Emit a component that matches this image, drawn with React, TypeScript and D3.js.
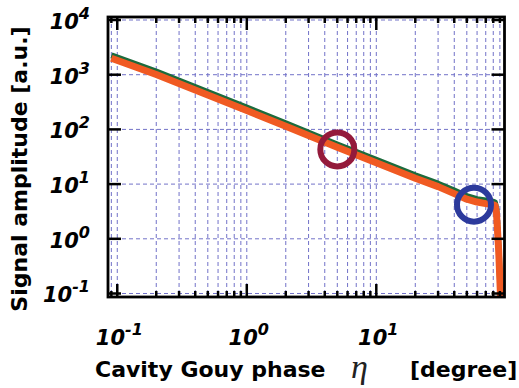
import React from "react";
import * as d3 from "d3";

// ---- data ----
const phaseDeg = [0.09, 0.2, 0.5, 1, 2, 5, 10, 20, 30, 40, 50, 60, 70, 80, 82.5, 84.7, 88.1, 90.7, 92];
const measuredAmp = [2000, 1010, 425, 221, 114, 47, 24.5, 12.8, 9.0, 6.7, 5.3, 4.7, 4.4, 4.2, 4.1, 3.0, 0.61, 0.11, 0.05];
const theoryAmp = [2260, 1140, 480, 250, 129, 53, 27.7, 14.5, 10.2, 7.6, 6.0, 5.3, 5.0, 4.75, 4.6, 3.4, 0.69, 0.125, 0.056];
const xMajorExp = [-1, 0, 1];
const yMajorExp = [-1, 0, 1, 2, 3, 4];
const markers = [
  { x: 5.0, y: 43, color: "#941a3b" },
  { x: 56.8, y: 4.21, color: "#2c3a9c" },
];

const W = 519;
const H = 388;
const L = 108, R = 504.5, T = 17, B = 297;

export default function App() {
  const x = d3.scaleLog().domain([0.0848, 97.7]).range([L, R]);
  const y = d3.scaleLog().domain([0.0863, 11350]).range([B, T]);

  const xGrid: number[] = [0.09];
  for (const e of xMajorExp) for (let m = 1; m <= 9; m++) xGrid.push(m * Math.pow(10, e));
  const xGridIn = xGrid.filter((v) => v >= 0.0848 && v <= 97.7);

  const line = d3
    .line<number>()
    .x((_, i) => x(phaseDeg[i]))
    .y((d) => y(d));

  const gridColor = "#7272c8";
  const tickFont = "'DejaVu Sans', Verdana, sans-serif";

  return (
    <svg width={W} height={H} style={{ position: "absolute", left: 0, top: 0, background: "#fff" }}>
      <defs>
        <clipPath id="plot">
          <rect x={L} y={T} width={R - L} height={B - T} />
        </clipPath>
      </defs>
      <rect x={0} y={0} width={W} height={H} fill="#fff" />
      {/* grid */}
      <g stroke={gridColor} strokeWidth={1} strokeDasharray="4,3" fill="none">
        {xGridIn.map((v, i) => (
          <line key={"gx" + i} x1={x(v)} x2={x(v)} y1={T} y2={B} />
        ))}
        {yMajorExp.map((e) => (
          <line key={"gy" + e} x1={L} x2={R} y1={y(Math.pow(10, e))} y2={y(Math.pow(10, e))} />
        ))}
      </g>
      {/* curves */}
      <g clipPath="url(#plot)" fill="none">
        <path d={line(theoryAmp) || ""} stroke="#1c6b3c" strokeWidth={6} strokeLinejoin="round" />
        <path d={line(measuredAmp) || ""} stroke="#f05a22" strokeWidth={7} strokeLinejoin="round" />
      </g>
      {/* markers */}
      {markers.map((m, i) => (
        <circle key={"m" + i} cx={x(m.x)} cy={y(m.y)} r={17} fill="none" stroke={m.color} strokeWidth={6} />
      ))}
      {/* ticks */}
      <g stroke="#000" strokeWidth={2.5}>
        {xGridIn.map((v, i) => {
          const major = Math.abs(Math.log10(v) - Math.round(Math.log10(v))) < 1e-9;
          const len = major ? 13 : 6;
          return (
            <g key={"tx" + i}>
              <line x1={x(v)} x2={x(v)} y1={B} y2={B - len} />
              <line x1={x(v)} x2={x(v)} y1={T} y2={T + len} />
            </g>
          );
        })}
        {yMajorExp.map((e) => (
          <g key={"ty" + e}>
            <line x1={L} x2={L + 13} y1={y(Math.pow(10, e))} y2={y(Math.pow(10, e))} />
            <line x1={R} x2={R - 13} y1={y(Math.pow(10, e))} y2={y(Math.pow(10, e))} />
          </g>
        ))}
      </g>
      {/* frame */}
      <rect x={L} y={T} width={R - L} height={B - T} fill="none" stroke="#000" strokeWidth={2.8} />
      {/* y tick labels */}
      <g fontFamily={tickFont} fontWeight="bold" fontStyle="italic" fill="#000" textAnchor="end">
        {yMajorExp.map((e) => (
          <text key={"ly" + e} x={90} y={y(Math.pow(10, e)) + 9} fontSize={21}>
            10
            <tspan dy={-10} fontSize={16}>{String(e)}</tspan>
          </text>
        ))}
      </g>
      {/* x tick labels */}
      <g fontFamily={tickFont} fontWeight="bold" fontStyle="italic" fill="#000" textAnchor="middle">
        {xMajorExp.map((e) => (
          <text key={"lx" + e} x={x(Math.pow(10, e)) + 2} y={345} fontSize={21}>
            10
            <tspan dy={-10} fontSize={16}>{String(e)}</tspan>
          </text>
        ))}
      </g>
      {/* axis titles */}
      <text x={95} y={377} fontFamily={tickFont} fontWeight="bold" fontSize={22} fill="#000">
        Cavity Gouy phase
      </text>
      <text x={351} y={378} fontFamily="'Liberation Serif', 'DejaVu Serif', serif" fontStyle="italic" fontSize={34} fill="#222">
        η
      </text>
      <text x={410} y={377} fontFamily={tickFont} fontWeight="bold" fontSize={22} fill="#000">
        [degree]
      </text>
      <text
        transform={`translate(27,169) rotate(-90)`}
        textAnchor="middle"
        fontFamily={tickFont}
        fontWeight="bold"
        fontSize={22}
        fill="#000"
      >
        Signal amplitude [a.u.]
      </text>
    </svg>
  );
}
